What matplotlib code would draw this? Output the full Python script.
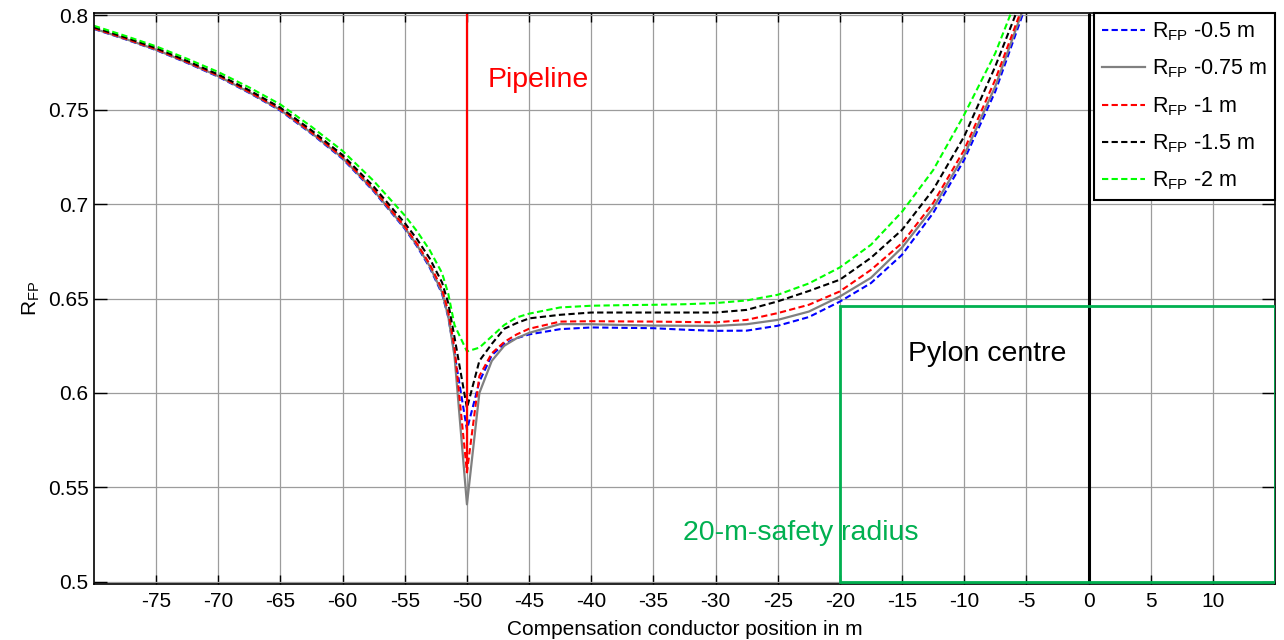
import numpy as np
import matplotlib
matplotlib.use('Agg')
import matplotlib.pyplot as plt
from matplotlib.patches import Rectangle

plt.rcParams['font.family'] = ['Liberation Sans', 'DejaVu Sans']
plt.rcParams['mathtext.fontset'] = 'custom'
plt.rcParams['mathtext.rm'] = 'Liberation Sans'
plt.rcParams['mathtext.it'] = 'Liberation Sans:italic'
plt.rcParams['axes.unicode_minus'] = False

# compensation conductor position (m)
pos = [-80, -77.5, -75, -72.5, -70, -67.5, -65, -62.5, -60, -57.5, -55, -54, -53, -52, -51.5, -51,
       -50, -49, -48, -47, -46, -45, -42.5, -40, -37.5, -35, -32.5, -30, -27.5, -25, -22.5,
       -20, -17.5, -15, -12.5, -10, -7.5, -5]

r_05 = [.7928, .7874, .7816, .7748, .7675, .7589, .7495, .7373, .7240, .7068, .6870, .6775, .6665, .6525, .6400, .6210,
        .5805, .6060, .6200, .6260, .6290, .6310, .6338, .6347, .6345, .6343, .6335, .6329, .6330, .6356, .6402,
        .6484, .6582, .6732, .6953, .7235, .7597, .8060]
r_075 = [.7930, .7876, .7818, .7751, .7678, .7592, .7499, .7377, .7245, .7073, .6875, .6781, .6672, .6533, .6405, .6195,
         .5410, .6000, .6170, .6250, .6290, .6318, .6365, .6364, .6360, .6357, .6356, .6355, .6364, .6387, .6431,
         .6511, .6610, .6770, .6980, .7260, .7624, .8080]
r_1 = [.7932, .7878, .7821, .7753, .7681, .7595, .7502, .7381, .7249, .7078, .6882, .6789, .6683, .6550, .6430, .6240,
       .5580, .6090, .6210, .6270, .6310, .6340, .6378, .6380, .6379, .6378, .6376, .6374, .6387, .6423, .6467,
       .6538, .6652, .6794, .7006, .7288, .7660, .8100]
r_15 = [.7937, .7884, .7827, .7759, .7687, .7603, .7511, .7391, .7260, .7093, .6900, .6813, .6713, .6585, .6475, .6295,
        .5920, .6170, .6260, .6340, .6370, .6395, .6414, .6426, .6426, .6426, .6426, .6426, .6440, .6485, .6540,
        .6600, .6716, .6864, .7076, .7359, .7730, .8150]
r_2 = [.7945, .7892, .7836, .7770, .7700, .7618, .7528, .7410, .7282, .7123, .6940, .6855, .6757, .6635, .6525, .6360,
       .6220, .6240, .6300, .6360, .6400, .6420, .6453, .6462, .6465, .6467, .6470, .6476, .6490, .6520, .6580,
       .6665, .6785, .6960, .7180, .7474, .7800, .8220]

labels = [r'R$_{\mathrm{FP}}$ -0.5 m', r'R$_{\mathrm{FP}}$ -0.75 m', r'R$_{\mathrm{FP}}$ -1 m',
          r'R$_{\mathrm{FP}}$ -1.5 m', r'R$_{\mathrm{FP}}$ -2 m']

pipeline_x = -50
pipeline_bottom = 0.558
safety_box = (-20, 0.5, 35, 0.146)  # x, y, width, height
green = '#00b050'

fig = plt.figure(figsize=(12.84, 6.4), dpi=100)
ax = fig.add_axes([0.0732, 0.0875, 0.9198, 0.892])

dash = (0, (3, 1.6))
ax.plot(pos, r_05, color='blue', lw=1.5, ls=dash, label=labels[0])
ax.plot(pos, r_075, color='gray', lw=1.6, ls='-', label=labels[1])
ax.plot(pos, r_1, color='red', lw=1.5, ls=dash, label=labels[2])
ax.plot(pos, r_15, color='black', lw=1.5, ls=dash, label=labels[3])
ax.plot(pos, r_2, color='#00ff00', lw=1.5, ls=dash, label=labels[4])

# pipeline, pylon centre and safety radius
ax.plot([pipeline_x, pipeline_x], [pipeline_bottom, 0.8], color='red', lw=1.6)
ax.plot([0, 0], [0.5, 0.8], color='black', lw=2.2)
ax.add_patch(Rectangle(safety_box[:2], safety_box[2], safety_box[3], fill=False,
                       edgecolor=green, lw=2, zorder=3))

ax.text(-48.3, 0.766, 'Pipeline', color='red', fontsize=20.5, va='center')
ax.text(-14.5, 0.6207, 'Pylon centre', color='black', fontsize=20.5, va='center')
ax.text(-32.6, 0.526, '20-m-safety radius', color=green, fontsize=20.5, va='center')

ax.set_xlim(-80, 15)
ax.set_ylim(0.4988, 0.8012)
ax.set_xticks(np.arange(-75, 11, 5))
ax.set_yticks([0.5, 0.55, 0.6, 0.65, 0.7, 0.75, 0.8])
ax.set_yticklabels(['0.5', '0.55', '0.6', '0.65', '0.7', '0.75', '0.8'])
ax.grid(True, color='#9c9c9c', lw=0.9)
ax.tick_params(axis='both', direction='in', top=True, right=True, labelsize=15, width=1)
ax.tick_params(axis='x', length=6.5, pad=6)
ax.tick_params(axis='y', length=9.5, pad=4)
for s in ax.spines.values():
    s.set_linewidth(1.2)

ax.set_xlabel('Compensation conductor position in m', fontsize=15, labelpad=6)
ax.set_ylabel(r'R$_{\mathrm{FP}}$', fontsize=15, labelpad=4)

leg = ax.legend(loc='upper right', bbox_to_anchor=(1, 1), borderaxespad=0, fontsize=15.5,
                fancybox=False, framealpha=1, edgecolor='black', handlelength=2.0,
                labelspacing=0.68, borderpad=0.35, handletextpad=0.35)
leg.get_frame().set_linewidth(1.5)

fig.savefig('out.png', dpi=100)
